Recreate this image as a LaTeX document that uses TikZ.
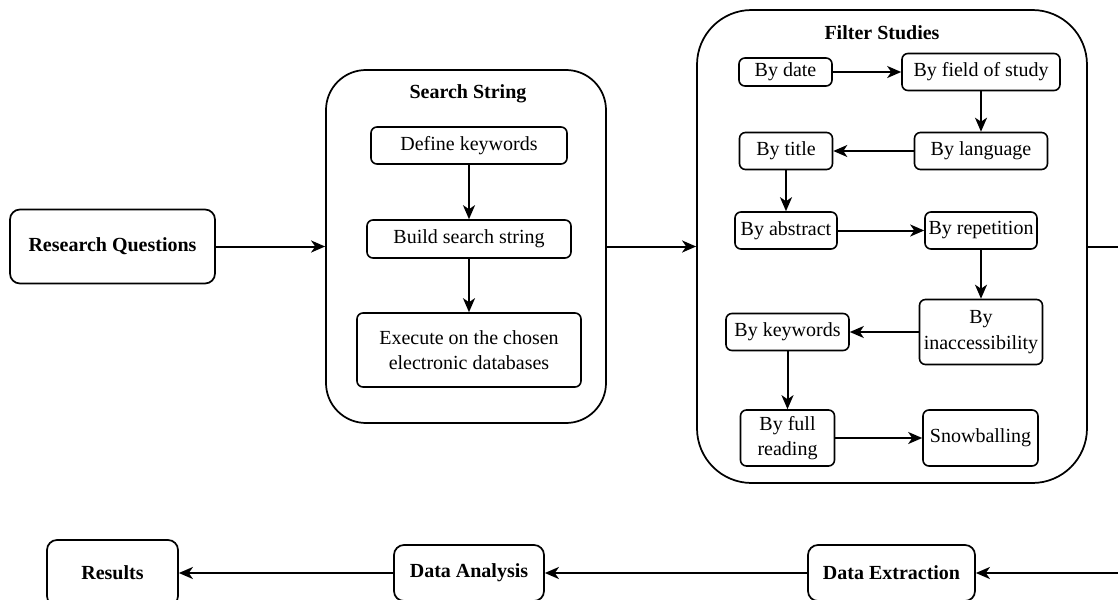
\documentclass[tikz,border=0pt]{standalone}
\usepackage{fontspec}
\setmainfont{Liberation Serif}
\usetikzlibrary{arrows.meta}
\tikzset{
  wh/.style 2 args={minimum width=#1*0.75pt, minimum height=#2*0.75pt},
  box/.style={draw, line width=1.2pt, rounded corners=4.5pt, inner sep=1pt,
    align=center, font=\fontsize{15}{19}\selectfont},
  stagebox/.style={draw, line width=1.3pt, rounded corners=7.5pt, inner sep=1pt,
    align=center, font=\fontsize{15}{19}\selectfont\bfseries},
  groupbox/.style={draw, line width=1.3pt, inner sep=0pt},
  title/.style={font=\fontsize{15}{19}\selectfont\bfseries},
  flow/.style={line width=1.5pt, -{Stealth[length=10.5pt, width=9pt, inset=3pt]}},
}
\begin{document}
\begin{tikzpicture}[x=0.75pt, y=-0.75pt]
\useasboundingbox (0,0) rectangle (1118,600);
\clip (0,0) rectangle (1118,600);

% main stages
\node[stagebox, wh={205}{74}] (rq) at (112.5,246.5) {Research Questions};
\node[groupbox, rounded corners=30pt, wh={280}{353}] (ss) at (466,246.5) {};
\node[title] (sst) at (468,94) {Search String};
\node[groupbox, rounded corners=41pt, wh={390}{473}] (fs) at (892,246.5) {};
\node[title] (fst) at (882,33) {Filter Studies};

\node[stagebox, wh={131}{66}] (res) at (112.5,573) {Results};
\node[stagebox, wh={150}{56}] (da) at (469,573) {Data Analysis};
\node[stagebox, wh={167}{56}] (dx) at (891.5,573) {Data Extraction};

% search string steps
\node[box, wh={196}{37}] (dk) at (469,145.5) {Define keywords};
\node[box, wh={204}{38}] (bs) at (469,239) {Build search string};
\node[box, wh={224}{74}] (ex) at (469,350) {Execute on the chosen\\electronic databases};

% filtering steps
\node[box, wh={93}{28}]  (bd)  at (785.5,72) {By date};
\node[box, wh={158}{37}] (bf)  at (981,72) {By field of study};
\node[box, wh={133}{37}] (bl)  at (981,151) {By language};
\node[box, wh={93}{37}]  (bt)  at (786,151) {By title};
\node[box, wh={102}{37}] (ba)  at (786,230.5) {By abstract};
\node[box, wh={112}{37}] (br)  at (981,230.5) {By repetition};
\node[box, wh={123}{65}] (bi)  at (981,332) {By\\inaccessibility};
\node[box, wh={123}{37}] (bk)  at (787.5,332) {By keywords};
\node[box, wh={94}{56}]  (bfr) at (787.5,438) {By full\\reading};
\node[box, wh={115}{56}] (sn)  at (980.5,438) {Snowballing};

\coordinate (turn) at (1140,246.5);

% connectors
\draw[flow] (rq) -- (ss);
\draw[flow] (ss) -- (fs);
\draw[flow] (dk) -- (bs);
\draw[flow] (bs) -- (ex);
\draw[flow] (bd) -- (bf);
\draw[flow] (bf) -- (bl);
\draw[flow] (bl) -- (bt);
\draw[flow] (bt) -- (ba);
\draw[flow] (ba) -- (br);
\draw[flow] (br) -- (bi);
\draw[flow] (bi) -- (bk);
\draw[flow] (bk) -- (bfr);
\draw[flow] (bfr) -- (sn);
\draw[flow] (fs.east) -- (turn) |- (dx.east);
\draw[flow] (dx) -- (da);
\draw[flow] (da) -- (res);
\end{tikzpicture}
\end{document}
